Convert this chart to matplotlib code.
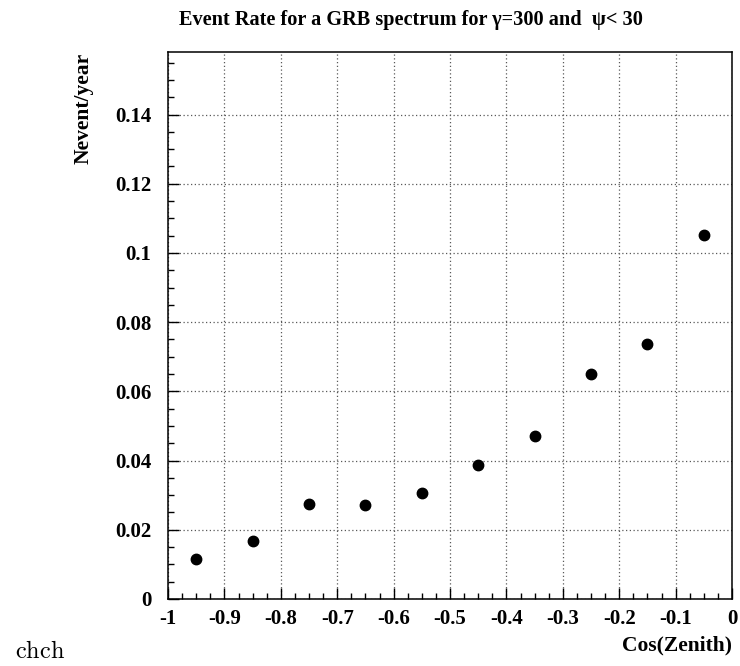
import matplotlib
matplotlib.use("Agg")
import matplotlib.pyplot as plt
from matplotlib.ticker import MultipleLocator, FuncFormatter

# data
cos_zenith = [-0.95, -0.85, -0.75, -0.65, -0.55, -0.45, -0.35, -0.25, -0.15, -0.05]
rate = [0.0115, 0.0168, 0.0274, 0.0272, 0.0306, 0.0388, 0.0472, 0.0650, 0.0737, 0.1051]

TITLE = "Event Rate for a GRB spectrum for \u03b3=300 and  \u03c8< 30"
XLABEL = "Cos(Zenith)"
YLABEL = "Nevent/year"

plt.rcParams['font.family'] = ['Liberation Serif', 'DejaVu Serif']
plt.rcParams['mathtext.fontset'] = 'cm'

fig = plt.figure(figsize=(7.4, 6.66), dpi=100)
ax = fig.add_axes([168 / 740, 1 - 599 / 666, (732 - 168) / 740, (599 - 52.3) / 666])

ax.plot(cos_zenith, rate, 'o', color='black', markersize=7.5, zorder=3)

ax.set_xlim(-1, 0)
ax.set_ylim(0, 0.158)

ax.xaxis.set_major_locator(MultipleLocator(0.1))
ax.xaxis.set_minor_locator(MultipleLocator(0.025))
ax.yaxis.set_major_locator(MultipleLocator(0.02))
ax.yaxis.set_minor_locator(MultipleLocator(0.005))
fmt = FuncFormatter(lambda v, p: "0" if abs(v) < 1e-9 else f"{v:.10g}")
ax.xaxis.set_major_formatter(fmt)
ax.yaxis.set_major_formatter(fmt)

ax.tick_params(which='both', direction='in', top=False, right=False, width=1)
ax.tick_params(which='major', length=8, labelsize=15)
ax.tick_params(which='minor', length=4)
ax.tick_params(axis='x', which='major', pad=7)
ax.tick_params(axis='y', which='major', pad=12)
for lab in ax.get_xticklabels() + ax.get_yticklabels():
    lab.set_fontweight('bold')

ax.grid(True, which='major', color='0.35', linestyle=(0, (1, 2)), linewidth=0.9)
for s in ax.spines.values():
    s.set_linewidth(1.1)

fig.text(411 / 740, 1 - 20 / 666, TITLE, ha='center', va='center',
         fontsize=14.6, fontweight='bold')
fig.text(84 / 740, 1 - 53 / 666, YLABEL, ha='center', va='top', rotation=90,
         fontsize=15.5, fontweight='bold')
fig.text(732 / 740, 1 - 645 / 666, XLABEL, ha='right', va='center',
         fontsize=15.5, fontweight='bold')
fig.text(15 / 740, 1 - 652 / 666, r"$\mathrm{chch}$", ha='left', va='center',
         fontsize=17.5)

fig.savefig("out.png", dpi=100)
